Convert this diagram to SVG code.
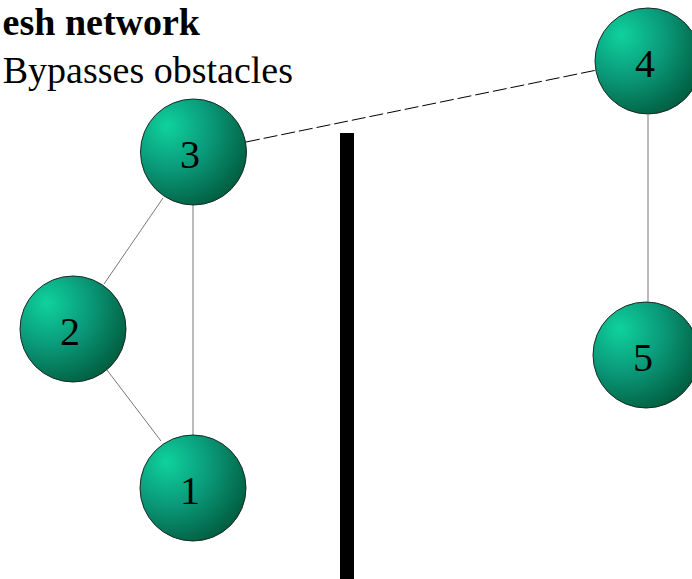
<svg xmlns="http://www.w3.org/2000/svg" width="692" height="579" viewBox="0 0 692 579">
<style>
.node{stroke:#1a2a22;stroke-width:1;fill:url(#g)}
.lbl{font-family:"Liberation Serif","Times New Roman",serif;font-size:40px;fill:#000;text-anchor:middle}
.edge{stroke:#777;stroke-width:1;fill:none}
.dash{stroke:#000;stroke-width:1;stroke-dasharray:14 4;fill:none}
.t{font-family:"Liberation Serif","Times New Roman",serif;font-size:38px;fill:#000;text-anchor:end}
</style>
<defs>
<radialGradient id="g" cx="0.3" cy="0.3" r="0.8" fx="0.25" fy="0.25">
<stop offset="0" stop-color="#0fd29e"/>
<stop offset="0.5" stop-color="#0a9878"/>
<stop offset="1" stop-color="#005a3c"/>
</radialGradient>
</defs>
<rect width="692" height="579" fill="#fff"/>
<text class="t" x="200" y="35" font-weight="bold">esh network</text>
<text class="t" x="293" y="83">Bypasses obstacles</text>
<rect x="340" y="133" width="14" height="446" fill="#000"/>
<g id="connectors">
<line class="edge" x1="163" y1="198" x2="104" y2="284"/>
<line class="edge" x1="107" y1="370" x2="161" y2="441"/>
<line class="edge" x1="193" y1="205" x2="193" y2="435"/>
<line class="edge" x1="648" y1="115" x2="648" y2="302"/>
<line class="dash" x1="246" y1="142" x2="597" y2="70"/>
</g>
<g id="node3"><circle class="node" cx="193.5" cy="152" r="53"/><text class="lbl" x="190" y="168">3</text></g>
<g id="node2"><circle class="node" cx="73" cy="329" r="53"/><text class="lbl" x="70" y="345">2</text></g>
<g id="node1"><circle class="node" cx="193" cy="488" r="53"/><text class="lbl" x="190" y="504">1</text></g>
<g id="node4"><circle class="node" cx="648" cy="61" r="53"/><text class="lbl" x="645" y="77">4</text></g>
<g id="node5"><circle class="node" cx="646" cy="355" r="53"/><text class="lbl" x="643" y="371">5</text></g>
</svg>
